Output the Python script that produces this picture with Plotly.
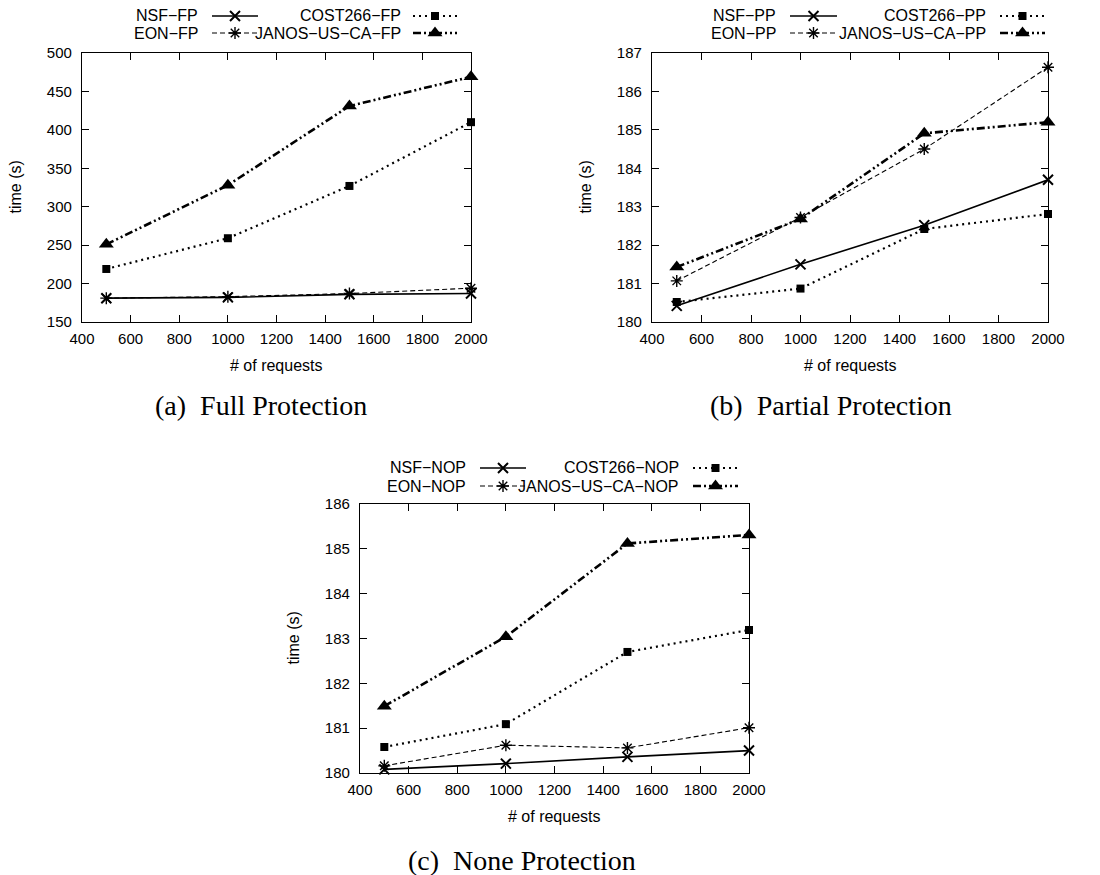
import plotly.graph_objects as go

# ---------------- data ----------------
requests = [500, 1000, 1500, 2000]
x_ticks = [400, 600, 800, 1000, 1200, 1400, 1600, 1800, 2000]

# (a) Full Protection
nsf_fp = [181, 182, 186, 187]
eon_fp = [181, 183, 187, 194]
cost266_fp = [219, 259, 327, 410]
janos_fp = [251, 328, 431, 469]

# (b) Partial Protection
nsf_pp = [180.42, 181.5, 182.52, 183.7]
eon_pp = [181.07, 182.72, 184.5, 186.63]
cost266_pp = [180.52, 180.87, 182.42, 182.81]
janos_pp = [181.43, 182.68, 184.91, 185.2]

# (c) None Protection
nsf_nop = [180.08, 180.21, 180.36, 180.5]
eon_nop = [180.16, 180.62, 180.56, 181.01]
cost266_nop = [180.58, 181.09, 182.7, 183.19]
janos_nop = [181.49, 183.04, 185.12, 185.31]

PAGE_W, PAGE_H = 1100, 875
OFF = 8  # page body margin offset
W, H = PAGE_W - OFF, PAGE_H - OFF
FONT = "Liberation Sans, Arial, sans-serif"
SERIF = "Liberation Serif, Times New Roman, serif"


def px(x):
    return (x - OFF) / W


def py(y):
    return 1 - (y - OFF) / H


styles = {
    "NSF": dict(line=dict(color="black", width=1.6, dash="solid"),
                marker=dict(symbol="x-thin-open", size=10, color="black", line=dict(width=2, color="black"))),
    "EON": dict(line=dict(color="black", width=1.1, dash="5px,3px"),
                marker=dict(symbol="asterisk-open", size=10, color="black", line=dict(width=1.4, color="black"))),
    "COST266": dict(line=dict(color="black", width=2.2, dash="2px,4px"),
                    marker=dict(symbol="square", size=8, color="black")),
    "JANOS-US-CA": dict(line=dict(color="black", width=2.6, dash="8px,3px,2px,3px,2px,3px"),
                        marker=dict(symbol="triangle-up", size=13, color="black")),
}

panels = [
    dict(suffix="FP", series=[nsf_fp, eon_fp, cost266_fp, janos_fp],
         xpx=(82, 471), ypx=(53, 322), yr=(150, 500), dt=50,
         leg=dict(t1=200, s1=(212, 258), t2=403, s2=(413, 457), rows=(16, 33)),
         cap="(a)  Full Protection", capxy=(261, 405)),
    dict(suffix="PP", series=[nsf_pp, eon_pp, cost266_pp, janos_pp],
         xpx=(652, 1048), ypx=(53, 322), yr=(180, 187), dt=1,
         leg=dict(t1=778, s1=(790, 837), t2=988, s2=(1000, 1045), rows=(16, 33)),
         cap="(b)  Partial Protection", capxy=(831, 405)),
    dict(suffix="NOP", series=[nsf_nop, eon_nop, cost266_nop, janos_nop],
         xpx=(360, 749), ypx=(504, 773), yr=(180, 186), dt=1,
         leg=dict(t1=468, s1=(480, 526), t2=681, s2=(693, 738), rows=(468, 486)),
         cap="(c)  None Protection", capxy=(522, 860)),
]

names = ["NSF", "EON", "COST266", "JANOS-US-CA"]

fig = go.Figure()
annotations = []
layout = {}

for i, p in enumerate(panels, start=1):
    xa = "x" if i == 1 else f"x{i}"
    ya = "y" if i == 1 else f"y{i}"
    for name, vals in zip(names, p["series"]):
        st = styles[name]
        fig.add_trace(go.Scatter(x=requests, y=vals, mode="lines+markers",
                                 line=st["line"], marker=st["marker"], cliponaxis=False,
                                 xaxis=xa, yaxis=ya, showlegend=False,
                                 name=f"{name}-{p['suffix']}"))
    x0, x1 = p["xpx"]
    yt, yb = p["ypx"]
    axcommon = dict(showline=True, linecolor="black", linewidth=1.3, mirror="allticks",
                    ticks="inside", ticklen=7, tickwidth=1.2, tickcolor="black",
                    showgrid=False, zeroline=False, automargin=False,
                    tickfont=dict(family=FONT, size=15, color="black"))
    layout["xaxis" if i == 1 else f"xaxis{i}"] = dict(
        axcommon, domain=[px(x0), px(x1)], range=[400, 2000], tickvals=x_ticks,
        anchor=ya, ticklabelstandoff=3)
    layout["yaxis" if i == 1 else f"yaxis{i}"] = dict(
        axcommon, domain=[py(yb), py(yt)], range=list(p["yr"]), dtick=p["dt"],
        anchor=xa, ticklabelstandoff=6)
    # axis titles
    annotations.append(dict(text="# of requests", x=px((x0 + x1) / 2), y=py(yb + 43),
                            xref="paper", yref="paper", showarrow=False,
                            xanchor="center", yanchor="middle",
                            font=dict(family=FONT, size=16, color="black")))
    annotations.append(dict(text="time (s)", x=px(x0 - 67), y=py((yt + yb) / 2),
                            xref="paper", yref="paper", showarrow=False, textangle=-90,
                            xanchor="center", yanchor="middle",
                            font=dict(family=FONT, size=16, color="black")))
    # caption
    annotations.append(dict(text=p["cap"], x=px(p["capxy"][0]), y=py(p["capxy"][1]),
                            xref="paper", yref="paper", showarrow=False,
                            xanchor="center", yanchor="middle",
                            font=dict(family=SERIF, size=28, color="black")))
    # legend (gnuplot style: text, then sample)
    lg = p["leg"]
    entries = [(names[0], lg["t1"], lg["s1"], lg["rows"][0]),
               (names[2], lg["t2"], lg["s2"], lg["rows"][0]),
               (names[1], lg["t1"], lg["s1"], lg["rows"][1]),
               (names[3], lg["t2"], lg["s2"], lg["rows"][1])]
    for name, tx, (sx0, sx1), ry in entries:
        label = f"{name}-{p['suffix']}".replace("-", "\u2212")
        annotations.append(dict(text=label, x=px(tx), y=py(ry), xref="paper", yref="paper",
                                xanchor="right", yanchor="middle", showarrow=False,
                                font=dict(family=FONT, size=16, color="black")))
        st = styles[name]
        fig.add_trace(go.Scatter(x=[sx0, sx1], y=[ry, ry], mode="lines", line=st["line"],
                                 xaxis="x4", yaxis="y4", showlegend=False, hoverinfo="skip"))
        fig.add_trace(go.Scatter(x=[(sx0 + sx1) / 2], y=[ry], mode="markers", marker=st["marker"],
                                 xaxis="x4", yaxis="y4", showlegend=False, hoverinfo="skip"))

layout["xaxis4"] = dict(domain=[0, 1], range=[OFF, PAGE_W], visible=False, anchor="y4",
                        fixedrange=True, automargin=False)
layout["yaxis4"] = dict(domain=[0, 1], range=[PAGE_H, OFF], visible=False, anchor="x4",
                        fixedrange=True, automargin=False)

fig.update_layout(width=W, height=H, margin=dict(l=0, r=0, t=0, b=0, autoexpand=False),
                  paper_bgcolor="white", plot_bgcolor="rgba(0,0,0,0)",
                  showlegend=False, annotations=annotations, **layout)

fig.write_html("out.html")
